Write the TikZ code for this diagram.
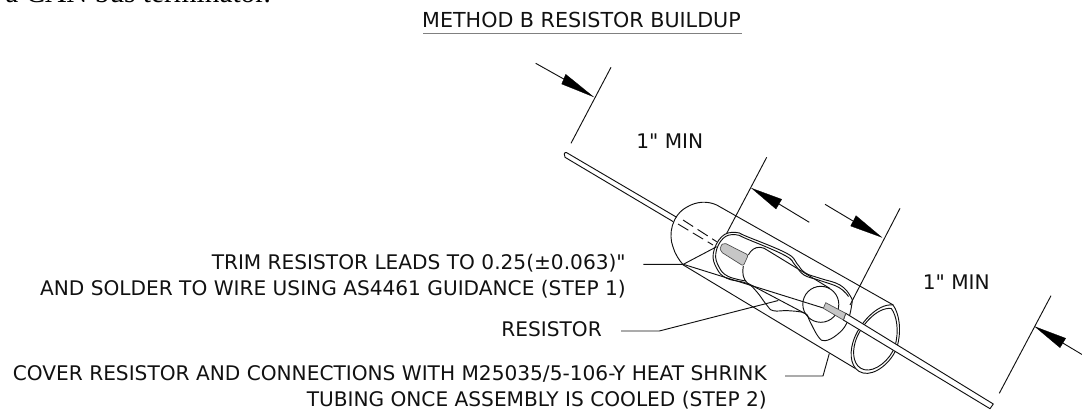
\documentclass[tikz,border=0pt]{standalone}
\usepackage{fontspec}
\setmainfont{DejaVu Sans}
\newfontfamily\serifhead{Liberation Serif}
\newfontfamily\labelfont{DejaVu Sans}
\definecolor{ink}{HTML}{111111}
\tikzset{
  part/.style={draw=ink,line width=0.7pt,line join=round},
  leader/.style={draw=ink,line width=0.7pt},
  dimtip/.style={fill=black,draw=black,line width=0.2pt,line join=miter},
  leadfill/.style={fill=gray!45,draw=gray!60!black,line width=0.5pt,line join=round},
  lbl/.style={inner sep=0pt,anchor=base east,align=right,font=\labelfont\fontsize{15.1pt}{19.1pt}\selectfont,text=ink}
}
\begin{document}
\begin{tikzpicture}[x=0.75pt,y=-0.75pt]
\clip (0,0) rectangle (1082,410);
% texts
\node[inner sep=0pt,anchor=base west,font=\serifhead\fontsize{22pt}{24pt}\selectfont] (head) at (5,3) {a CAN bus terminator.};
\node[lbl,font=\labelfont\fontsize{15.5pt}{18pt}\selectfont] (title) at (741,28) {METHOD B RESISTOR BUILDUP};
\draw[draw=gray,line width=1pt] (423,33.5) -- (741.5,33.5);
\node[lbl] (min1) at (703.5,148) {1" MIN};
\node[lbl] (min2) at (990,289) {1" MIN};
\node[lbl] (trim) at (626,295) {TRIM RESISTOR LEADS TO 0.25(±0.063)"\\AND SOLDER TO WIRE USING AS4461 GUIDANCE (STEP 1)};
\node[lbl] (res) at (602,336.7) {RESISTOR};
\node[lbl] (cover) at (767,406) {COVER RESISTOR AND CONNECTIONS WITH M25035/5-106-Y HEAT SHRINK\\TUBING ONCE ASSEMBLY IS COOLED (STEP 2)};
% tube
\draw[part] (893.3,305) -- (716.7,205) .. controls (708,201) and (697,201) .. (687,207) .. controls (672,215) and (668,234) .. (673,247) .. controls (675,254) and (679,260) .. (683.3,265) -- (855,368.3);
\draw[part] (893,305) .. controls (899,313) and (902,330) .. (897,347) .. controls (892,362) and (875,376) .. (863,373) .. controls (851,370) and (849,355) .. (853,342) .. controls (858,325) and (877,303) .. (893,305) -- cycle;
\draw[part] (891.3,308.5) .. controls (896.7,315.7) and (899.4,331) .. (894.9,346.3) .. controls (890.4,359.8) and (875.1,372.4) .. (864.3,369.7) .. controls (853.5,367) and (851.7,353.5) .. (855.3,341.8) .. controls (859.8,326.5) and (876.9,306.7) .. (891.3,308.5) -- cycle;
% solder/shrink outline
\draw[part] plot[smooth cycle,tension=.7] coordinates {(735,232.3) (747.3,236.7) (786.7,253.3) (796.7,263.3) (805,272.7) (820,278.3) (840,285) (850.7,296.7) (851.7,305) (846.7,323.3) (836.7,335) (825,340.7) (818.3,336.7) (810,321.7) (805,313.3) (788.3,310.7) (773.3,310.7) (766.7,305) (756.7,291.7) (746.7,283.3) (726.7,278.3) (716.7,268.3) (713.3,253.3) (721.7,236.7)};
\draw[part] plot[smooth,tension=.7] coordinates {(848.5,296.5) (839,287.5) (820,280.5) (804,275) (795,265) (785,255.5) (747,239) (735,234.6) (723,238.5) (715.8,253.3) (719,267) (728,276.3) (746,281)};
% body
\draw[part] (748.3,255) .. controls (751,250) and (755,247) .. (760,247.3) .. controls (763,247.5) and (765,248.5) .. (767,250) -- (830,288.5);
\draw[part] (743.3,266) .. controls (742,273) and (743,279) .. (747.3,283) -- (806,314);
\draw[part] (820.8,304.3) circle[radius=18];
% tapered line
\coordinate (domefoot) at (683.3,264.3);
\draw[part] (domefoot) -- (823.3,308);
% wires
\draw[part,fill=white] (845.7,313.3) -- (993.3,404) -- (990,408.7) -- (843.3,320) -- cycle;
\draw[part] (676.7,217.3) -- (566.7,152.7) .. controls (564,151.5) and (563.5,155.5) .. (565,157.3) -- (673.3,221.7);
\draw[part,dash pattern=on 9pt off 4pt] (683,220) -- (716.7,241.7);
\draw[part,dash pattern=on 9pt off 4pt] (678,224) -- (713,245);
% leads
\draw[leadfill,rounded corners=1.5pt] (720,246.5) -- (724,242.7) -- (748.3,255) -- (743.3,266) -- (720.7,251.7) -- cycle;
\draw[leadfill] (825.7,302.7) -- (845.7,313.3) -- (843.3,320) -- (823.3,308.3) -- cycle;
% leaders
\coordinate (t1) at (643.3,264.3);
\coordinate (t2) at (716.7,246.7);
\draw[leader] (t1) -- (domefoot) -- (t2);
\coordinate (r1) at (621,331);
\coordinate (r2) at (659.3,331);
\coordinate (r3) at (778.3,300.5);
\draw[leader] (r1) -- (r2) -- (r3);
\coordinate (c1) at (785,376);
\coordinate (c2) at (823,376);
\coordinate (c3) at (829.3,353.5);
\draw[leader] (c1) -- (c2) -- (c3);
% dimensions
\coordinate (e1a) at (611,67.3); \coordinate (e1b) at (571,143.3);
\coordinate (e2a) at (766.7,157.3); \coordinate (e2b) at (726.7,233.3);
\coordinate (e3a) at (900,208.3); \coordinate (e3b) at (850,305);
\coordinate (e4a) at (1051,295.7); \coordinate (e4b) at (999.3,393.3);
\draw[leader] (e1a) -- (e1b);
\draw[leader] (e2a) -- (e2b);
\draw[leader] (e3a) -- (e3b);
\draw[leader] (e4a) -- (e4b);
\coordinate (a1) at (535.7,63.3); \coordinate (a1m) at (563.7,79);
\coordinate (a2) at (809.3,222.3); \coordinate (a2m) at (779,204);
\coordinate (a3) at (825,204.3); \coordinate (a3m) at (853,221);
\coordinate (a4) at (1082,354.5); \coordinate (a4m) at (1062.8,343);
\draw[leader] (a1) -- (a1m);
\draw[leader] (a2) -- (a2m);
\draw[leader] (a3) -- (a3m);
\draw[leader] (a4) -- (a4m);
\fill[dimtip] (593.3,96.7) -- (565.7,74.3) -- (561.7,84) -- cycle;
\fill[dimtip] (751.7,188.3) -- (781.7,199.3) -- (776,209) -- cycle;
\fill[dimtip] (881.7,237.3) -- (856,215.7) -- (850.7,226) -- cycle;
\fill[dimtip] (1035,326.7) -- (1065.7,338.3) -- (1060,347.7) -- cycle;
\end{tikzpicture}
\end{document}
